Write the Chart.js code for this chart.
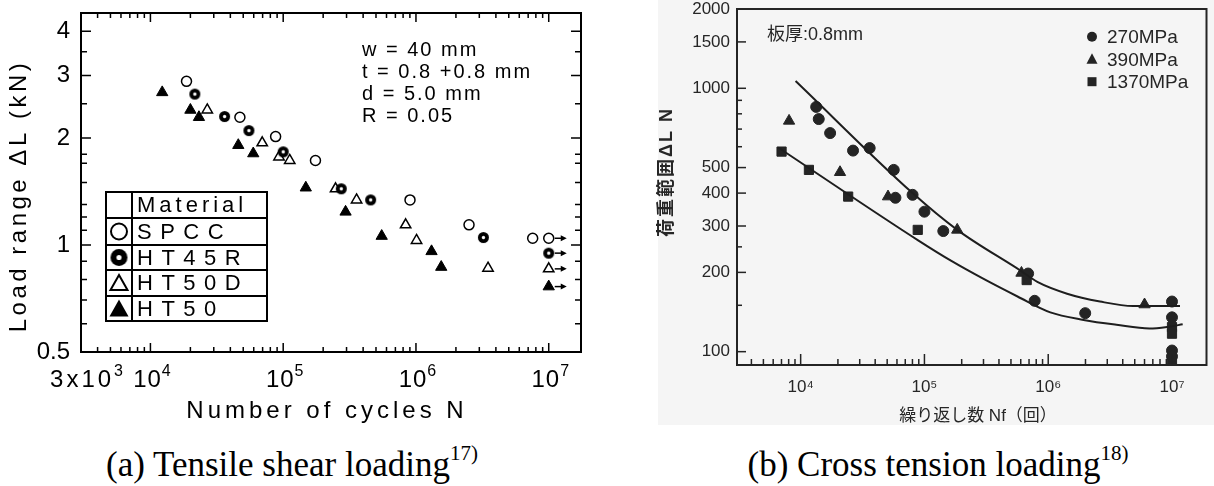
<!DOCTYPE html>
<html>
<head>
<meta charset="utf-8">
<script src="https://cdn.jsdelivr.net/npm/chart.js@4/dist/chart.umd.min.js"></script>
<style>
  body { margin: 0; background: #fff; }
  #page { position: relative; width: 1214px; height: 486px; overflow: hidden; }
  #panelB { position: absolute; left: 658px; top: 0; width: 556px; height: 425px; background: #f5f5f5; }
  canvas { position: absolute; top: 0; }
  #chartA { left: 0; }
  #chartB { left: 640px; }
  .caption { position: absolute; top: 445px; font-family: "Liberation Serif", serif; font-size: 35px; color: #000; white-space: nowrap; transform: translateX(-50%); }
  .caption sup { font-size: 21px; position: relative; top: -4px; vertical-align: top; }
</style>
</head>
<body>
<div id="page">
  <div id="panelB"></div>
  <canvas id="chartA" width="620" height="440"></canvas>
  <canvas id="chartB" width="574" height="440"></canvas>
  <div class="caption" style="left:292px">(a) Tensile shear loading<sup>17)</sup></div>
  <div class="caption" style="left:938px">(b) Cross tension loading<sup>18)</sup></div>
</div>
<script>
// (a) tensile shear: cycles N and load range (kN) per material
var spccN  = [18700, 47200, 87700, 175000, 902000, 2.51e6, 7.57e6, 1e7];
var spccL  = [2.89, 2.29, 2.02, 1.73, 1.34, 1.14, 1.045, 1.045];
var ht45rN = [21600, 36200, 55200, 100000, 274000, 456000, 3.22e6, 1e7];
var ht45rL = [2.66, 2.30, 2.10, 1.83, 1.44, 1.34, 1.05, 0.949];
var ht50dN = [26800, 69500, 93000, 112000, 248000, 357000, 836000, 1.01e6, 3.49e6, 1e7];
var ht50dL = [2.40, 1.94, 1.77, 1.73, 1.44, 1.34, 1.14, 1.03, 0.861, 0.857];
var ht50N  = [12270, 20000, 23200, 45900, 59500, 148000, 295000, 552000, 1.31e6, 1.55e6, 1e7];
var ht50L  = [2.69, 2.40, 2.29, 1.91, 1.81, 1.45, 1.24, 1.06, 0.96, 0.867, 0.764];
var runoutN = 1e7;   // unbroken specimens, marked with an arrow

var aXTicks    = [3e3, 1e4, 1e5, 1e6, 1e7];
var aXTickBase = ['3x10', '10', '10', '10', '10'];
var aXTickExp  = ['3', '4', '5', '6', '7'];
var aXMinor    = [4e3, 5e3, 6e3, 7e3, 8e3, 9e3, 2e4, 3e4, 4e4, 5e4, 6e4, 7e4, 8e4, 9e4,
                  2e5, 3e5, 4e5, 5e5, 6e5, 7e5, 8e5, 9e5, 2e6, 3e6, 4e6, 5e6, 6e6, 7e6, 8e6, 9e6];
var aYTicks      = [0.5, 1, 2, 3, 4];
var aYTickLabels = ['0.5', '1', '2', '3', '4'];
var aYMinor      = [0.6, 0.7, 0.8, 0.9, 1.1, 1.2, 1.3, 1.5, 1.7, 1.8, 2.5, 3.5];

// (b) cross tension: cycles Nf and load range (N) per strength grade
var mpa270N  = [13350, 14000, 17300, 26500, 36100, 56500, 58300, 80200, 100000, 142000, 688000, 777000, 1.99e6, 1e7, 1e7, 1e7, 1e7];
var mpa270L  = [850, 764, 676, 580, 593, 490, 384, 394, 340, 287, 198, 156, 140, 155, 135, 101, 96];
var mpa390N  = [8060, 20800, 50800, 184000, 608000, 6.0e6];
var mpa390L  = [752, 480, 388, 290, 199, 151];
var mpa1370N = [7010, 11660, 24200, 88300, 670000, 1e7, 1e7, 1e7];
var mpa1370L = [575, 490, 388, 290, 187, 124, 117, 92];
var upperFitN = [9100, 80200, 184000, 608000, 817000, 1.42e6, 2.62e6, 4.85e6, 1.16e7];
var upperFitL = [1066, 400, 290, 202, 184, 166, 155, 149, 149];
var lowerFitN = [6580, 89600, 165000, 306000, 565000, 1.04e6, 1.93e6, 3.56e6, 6.58e6, 9.5e6, 1.22e7];
var lowerFitL = [596, 264, 221, 188, 162, 141, 132, 126.5, 122.5, 124.5, 127];

var bXTicks      = [1e4, 1e5, 1e6, 1e7];
var bXTickLabels = ['10⁴', '10⁵', '10⁶', '10⁷'];
var bXMinor      = [4e3, 5e3, 6e3, 7e3, 8e3, 9e3, 2e4, 3e4, 4e4, 5e4, 6e4, 7e4, 8e4, 9e4,
                    2e5, 3e5, 4e5, 5e5, 6e5, 7e5, 8e5, 9e5, 2e6, 3e6, 4e6, 5e6, 6e6, 7e6, 8e6, 9e6];
var bYTicks      = [100, 200, 300, 400, 500, 1000, 1500, 2000];
var bYTickLabels = ['100', '200', '300', '400', '500', '1000', '1500', '2000'];
var bYMinor      = [150, 250, 600, 700, 800, 900];

function pts(xs, ys) {
    return xs.map(function(x, i) { return { x: x, y: ys[i] }; });
}

// filled dot with a light centre, used for HT45R
function dotStyle(r) {
    var c = document.createElement('canvas');
    var s = Math.ceil(r * 2 + 2);
    c.width = c.height = s;
    var g = c.getContext('2d');
    g.fillStyle = '#000';
    g.beginPath(); g.arc(s / 2, s / 2, r, 0, Math.PI * 2); g.fill();
    g.fillStyle = '#fff';
    g.beginPath(); g.arc(s / 2, s / 2, r * 0.3, 0, Math.PI * 2); g.fill();
    return c;
}

function spaced(ctx, text, x, y, spacing) {
    ctx.letterSpacing = spacing + 'px';
    ctx.fillText(text, x, y);
    ctx.letterSpacing = '0px';
}

function inwardTicks(ctx, scale, area, values, len, horizontal, mirror) {
    values.forEach(function(v) {
        var p = scale.getPixelForValue(v);
        ctx.beginPath();
        if (horizontal) {
            ctx.moveTo(p, area.bottom); ctx.lineTo(p, area.bottom - len);
            if (mirror) { ctx.moveTo(p, area.top); ctx.lineTo(p, area.top + len); }
        } else {
            ctx.moveTo(area.left, p); ctx.lineTo(area.left + len, p);
            if (mirror) { ctx.moveTo(area.right, p); ctx.lineTo(area.right - len, p); }
        }
        ctx.stroke();
    });
}

var sansA = '"Liberation Sans", Arial, sans-serif';
var sansB = '"Liberation Sans", "Noto Sans CJK JP", sans-serif';

// ---- chart (a) ----
var decorA = {
    id: 'decorA',
    afterDraw: function(chart) {
        var ctx = chart.ctx, a = chart.chartArea;
        var x = chart.scales.x, y = chart.scales.y;
        ctx.save();
        ctx.strokeStyle = '#000';
        ctx.lineWidth = 2;
        ctx.strokeRect(a.left, a.top, a.right - a.left, a.bottom - a.top);
        ctx.lineWidth = 1.5;
        inwardTicks(ctx, x, a, aXTicks, 9, true, true);
        inwardTicks(ctx, x, a, aXMinor, 5, true, true);
        inwardTicks(ctx, y, a, aYTicks, 10, false, true);
        inwardTicks(ctx, y, a, aYMinor, 6, false, true);

        // decade labels with raised exponents
        ctx.fillStyle = '#000';
        ctx.textBaseline = 'alphabetic';
        ctx.textAlign = 'left';
        aXTicks.forEach(function(v, i) {
            var sp = i === 0 ? 3 : 1;
            ctx.font = '24px ' + sansA;
            ctx.letterSpacing = sp + 'px';
            var wb = ctx.measureText(aXTickBase[i]).width;
            ctx.font = '16px ' + sansA;
            var we = ctx.measureText(aXTickExp[i]).width;
            var cx = x.getPixelForValue(v) + (i === 0 ? 7 : 2);
            var left = cx - (wb + we) / 2;
            ctx.font = '24px ' + sansA;
            ctx.fillText(aXTickBase[i], left, a.bottom + 35);
            ctx.font = '16px ' + sansA;
            ctx.fillText(aXTickExp[i], left + wb, a.bottom + 24);
            ctx.letterSpacing = '0px';
        });

        // run-out arrows
        ctx.lineWidth = 1.5;
        chart.data.datasets.forEach(function(ds) {
            ds.data.forEach(function(p) {
                if (p.x !== runoutN) return;
                var px = x.getPixelForValue(p.x), py = y.getPixelForValue(p.y);
                ctx.beginPath(); ctx.moveTo(px + 6, py); ctx.lineTo(px + 14, py); ctx.stroke();
                ctx.beginPath(); ctx.moveTo(px + 18, py); ctx.lineTo(px + 12, py - 3); ctx.lineTo(px + 12, py + 3); ctx.closePath(); ctx.fill();
            });
        });

        // test conditions
        ctx.textBaseline = 'middle';
        ctx.font = '20px ' + sansA;
        spaced(ctx, 'w = 40 mm', 362, 50, 2);
        spaced(ctx, 't = 0.8 +0.8 mm', 362, 72, 2);
        spaced(ctx, 'd = 5.0 mm', 362, 94, 2);
        spaced(ctx, 'R = 0.05', 362, 116, 2);

        // material table
        var bx = 106, bd = 132, br = 267;
        var rows = [192, 218, 245, 270, 296, 321];
        ctx.lineWidth = 2;
        ctx.strokeRect(bx, rows[0], br - bx, rows[5] - rows[0]);
        ctx.beginPath();
        ctx.moveTo(bd, rows[0]); ctx.lineTo(bd, rows[5]);
        for (var i = 1; i < 5; i++) { ctx.moveTo(bx, rows[i]); ctx.lineTo(br, rows[i]); }
        ctx.stroke();
        ctx.font = '22px ' + sansA;
        spaced(ctx, 'Material', 137, 206, 4);
        var names = ['SPCC', 'HT45R', 'HT50D', 'HT50'];
        names.forEach(function(n, k) {
            spaced(ctx, n, 137, (rows[k + 1] + rows[k + 2]) / 2 + 1, 8.5);
        });
        var mx = 119;
        var cy = [231.5, 257.5, 283, 308.5];
        ctx.lineWidth = 2;
        ctx.beginPath(); ctx.arc(mx, cy[0], 8, 0, Math.PI * 2); ctx.stroke();
        ctx.drawImage(dotStyle(8.5), mx - 9.5, cy[1] - 9.5);
        ctx.beginPath(); ctx.moveTo(mx, cy[2] - 8); ctx.lineTo(mx + 8.5, cy[2] + 7); ctx.lineTo(mx - 8.5, cy[2] + 7); ctx.closePath(); ctx.stroke();
        ctx.beginPath(); ctx.moveTo(mx, cy[3] - 9); ctx.lineTo(mx + 9.5, cy[3] + 8); ctx.lineTo(mx - 9.5, cy[3] + 8); ctx.closePath(); ctx.fill();

        // axis titles
        ctx.textAlign = 'center';
        ctx.font = '24px ' + sansA;
        spaced(ctx, 'Number of cycles N', 327, 411, 4);
        ctx.translate(19, 196);
        ctx.rotate(-Math.PI / 2);
        spaced(ctx, 'Load range ΔL (kN)', 0, 0, 3.5);
        ctx.restore();
    }
};

new Chart(document.getElementById('chartA'), {
    type: 'scatter',
    data: {
        datasets: [
            { label: 'SPCC', data: pts(spccN, spccL), pointStyle: 'circle', pointRadius: 5,
              backgroundColor: '#fff', borderColor: '#000', borderWidth: 1.5 },
            { label: 'HT45R', data: pts(ht45rN, ht45rL), pointStyle: dotStyle(5.5) },
            { label: 'HT50D', data: pts(ht50dN, ht50dL), pointStyle: 'triangle', pointRadius: 6,
              backgroundColor: '#fff', borderColor: '#000', borderWidth: 1.5 },
            { label: 'HT50', data: pts(ht50N, ht50L), pointStyle: 'triangle', pointRadius: 6.5,
              backgroundColor: '#000', borderColor: '#000', borderWidth: 1 }
        ]
    },
    options: {
        responsive: false,
        animation: false,
        layout: { padding: { left: 0, right: 39, top: 13, bottom: 0 } },
        plugins: { legend: { display: false }, tooltip: { enabled: false } },
        scales: {
            x: {
                type: 'logarithmic', min: 3000, max: 1.75e7,
                grid: { display: false, drawTicks: false }, border: { display: false },
                afterBuildTicks: function(s) { s.ticks = aXTicks.map(function(v) { return { value: v }; }); },
                afterFit: function(s) { s.height = 88; s.paddingLeft = 0; s.paddingRight = 0; },
                ticks: { display: false }
            },
            y: {
                type: 'logarithmic', min: 0.5, max: 4.5,
                grid: { display: false, drawTicks: false }, border: { display: false },
                afterBuildTicks: function(s) { s.ticks = aYTicks.map(function(v) { return { value: v }; }); },
                afterFit: function(s) { s.width = 81; s.paddingTop = 0; s.paddingBottom = 0; },
                ticks: { autoSkip: false, padding: 11, color: '#000',
                         font: { family: sansA, size: 24 },
                         callback: function(v, i) { return aYTickLabels[i]; } }
            }
        }
    },
    plugins: [decorA]
});

// ---- chart (b) ----
var ink = '#242424';
var textB = '#262626';
var decorB = {
    id: 'decorB',
    afterDraw: function(chart) {
        var ctx = chart.ctx, a = chart.chartArea;
        var x = chart.scales.x, y = chart.scales.y;
        ctx.save();
        ctx.strokeStyle = ink;
        ctx.lineWidth = 2;
        ctx.strokeRect(a.left, a.top, a.right - a.left, a.bottom - a.top);
        ctx.lineWidth = 1.5;
        inwardTicks(ctx, x, a, bXTicks, 11, true, false);
        inwardTicks(ctx, x, a, bXMinor, 6, true, false);
        inwardTicks(ctx, y, a, bYTicks.slice(0, 7), 9, false, false);
        inwardTicks(ctx, y, a, bYMinor, 5, false, false);

        ctx.fillStyle = textB;
        ctx.textBaseline = 'middle';
        ctx.textAlign = 'left';
        ctx.font = '18px ' + sansB;
        ctx.fillText('板厚:0.8mm', 127, 35);

        // legend
        var lx = 452, ly = [36.7, 59.3, 81.7];
        ctx.fillStyle = ink;
        ctx.beginPath(); ctx.arc(lx, ly[0], 5, 0, Math.PI * 2); ctx.fill();
        ctx.beginPath(); ctx.moveTo(lx, ly[1] - 6); ctx.lineTo(lx + 5.5, ly[1] + 4.5); ctx.lineTo(lx - 5.5, ly[1] + 4.5); ctx.closePath(); ctx.fill();
        ctx.fillRect(lx - 4.5, ly[2] - 4.5, 9, 9);
        ctx.fillStyle = textB;
        ctx.font = '19px ' + sansB;
        ['270MPa', '390MPa', '1370MPa'].forEach(function(t, k) { ctx.fillText(t, 467, ly[k] + 1); });

        // axis titles
        ctx.textAlign = 'center';
        ctx.font = '17px ' + sansB;
        ctx.fillText('繰り返し数 Nf（回）', 338, 416);
        ctx.translate(27, 172);
        ctx.rotate(-Math.PI / 2);
        ctx.font = 'bold 18px ' + sansB;
        spaced(ctx, '荷重範囲ΔL N', 0, 0, 2);
        ctx.restore();
    }
};

var fitStyle = { showLine: true, pointRadius: 0, borderColor: '#1e1e1e', borderWidth: 2,
                 cubicInterpolationMode: 'monotone', fill: false };

new Chart(document.getElementById('chartB'), {
    type: 'scatter',
    data: {
        datasets: [
            Object.assign({ label: 'upper fit', data: pts(upperFitN, upperFitL) }, fitStyle),
            Object.assign({ label: 'lower fit', data: pts(lowerFitN, lowerFitL) }, fitStyle),
            { label: '270MPa', data: pts(mpa270N, mpa270L), pointStyle: 'circle', pointRadius: 5.5,
              backgroundColor: ink, borderColor: ink, borderWidth: 1 },
            { label: '390MPa', data: pts(mpa390N, mpa390L), pointStyle: 'triangle', pointRadius: 6.5,
              backgroundColor: ink, borderColor: ink, borderWidth: 1 },
            { label: '1370MPa', data: pts(mpa1370N, mpa1370L), pointStyle: 'rect', pointRadius: 6.5,
              backgroundColor: ink, borderColor: ink, borderWidth: 1 }
        ]
    },
    options: {
        responsive: false,
        animation: false,
        layout: { padding: { left: 0, right: 4, top: 9, bottom: 0 } },
        plugins: { legend: { display: false }, tooltip: { enabled: false } },
        scales: {
            x: {
                type: 'logarithmic', min: 3060, max: 1.9e7,
                grid: { display: false, drawTicks: false }, border: { display: false },
                afterBuildTicks: function(s) { s.ticks = bXTicks.map(function(v) { return { value: v }; }); },
                afterFit: function(s) { s.height = 75; s.paddingLeft = 0; s.paddingRight = 0; },
                ticks: { autoSkip: false, maxRotation: 0, padding: 12, color: textB,
                         font: { family: sansB, size: 17 },
                         callback: function(v, i) { return bXTickLabels[i]; } }
            },
            y: {
                type: 'logarithmic', min: 89, max: 2000,
                grid: { display: false, drawTicks: false }, border: { display: false },
                afterBuildTicks: function(s) { s.ticks = bYTicks.map(function(v) { return { value: v }; }); },
                afterFit: function(s) { s.width = 97; s.paddingTop = 0; s.paddingBottom = 0; },
                ticks: { autoSkip: false, padding: 7, color: textB,
                         font: { family: sansB, size: 17 },
                         callback: function(v, i) { return bYTickLabels[i]; } }
            }
        }
    },
    plugins: [decorB]
});
</script>
</body>
</html>
